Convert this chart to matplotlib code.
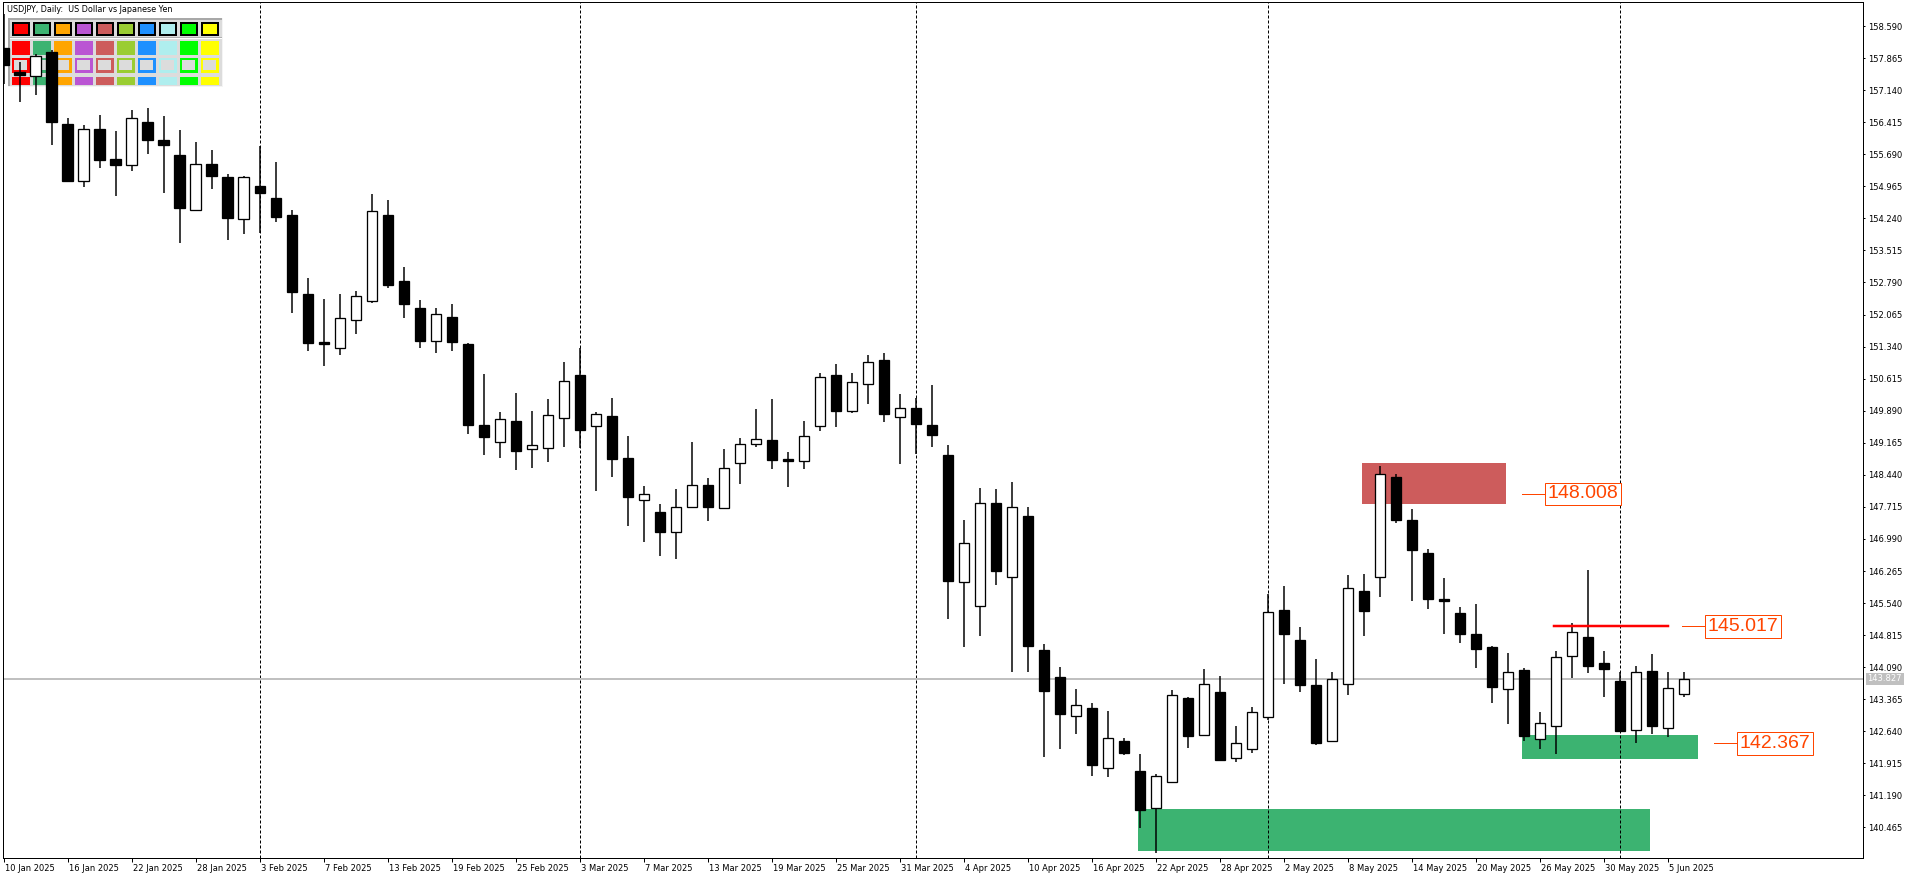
import matplotlib
matplotlib.use('Agg')
import matplotlib.pyplot as plt
from matplotlib.patches import Rectangle
from matplotlib.transforms import ScaledTranslation, blended_transform_factory

W, H = 1916, 880

# daily USDJPY bars, 10 Jan 2025 .. 6 Jun 2025
opens = [158.09, 157.56, 157.46, 158.00, 156.37, 155.09, 156.26, 155.58, 155.45, 156.41,
         156.01, 155.67, 154.44, 155.48, 155.17, 154.22, 154.97, 154.69, 154.31, 152.53,
         151.44, 151.30, 151.94, 152.38, 154.32, 152.82, 152.21, 151.47, 152.01, 151.40,
         149.57, 149.19, 149.66, 149.02, 149.04, 149.72, 150.70, 149.55, 149.77, 148.81,
         147.86, 147.59, 147.14, 147.72, 148.20, 147.70, 148.71, 149.13, 149.22, 148.80,
         148.76, 149.55, 150.69, 149.89, 150.50, 151.03, 149.75, 149.95, 149.57, 148.89,
         146.01, 145.47, 147.81, 146.14, 147.51, 144.48, 143.87, 142.98, 143.17, 141.80,
         142.43, 141.74, 140.91, 141.49, 143.39, 142.56, 143.52, 142.03, 142.23, 142.96,
         145.38, 144.71, 143.69, 142.41, 143.72, 145.81, 146.12, 148.39, 147.42, 146.67,
         145.63, 145.31, 144.84, 144.55, 143.59, 144.03, 142.46, 142.75, 144.34, 144.77,
         144.18, 143.78, 142.68, 144.00, 142.71, 143.48]
highs = [158.87, 157.78, 157.96, 158.05, 156.52, 156.35, 156.58, 156.22, 156.69, 156.73,
         156.55, 156.24, 155.97, 155.79, 155.24, 155.20, 155.88, 155.51, 154.44, 152.89,
         152.42, 152.53, 152.60, 154.79, 154.66, 153.14, 152.39, 152.21, 152.30, 151.43,
         150.72, 149.86, 150.28, 149.88, 150.15, 150.99, 151.30, 149.85, 150.18, 149.32,
         148.19, 147.78, 148.12, 149.18, 148.36, 149.02, 149.27, 149.93, 150.15, 148.95,
         149.65, 150.74, 150.94, 150.74, 151.14, 151.20, 150.27, 150.17, 150.47, 149.12,
         147.42, 148.15, 148.12, 148.28, 147.71, 144.62, 144.09, 143.59, 143.28, 143.10,
         142.48, 142.13, 141.67, 143.57, 143.42, 144.05, 143.89, 142.76, 143.19, 145.75,
         145.93, 145.00, 144.28, 143.98, 146.17, 146.20, 148.64, 148.46, 147.67, 146.76,
         146.11, 145.45, 145.52, 144.57, 144.41, 144.07, 143.08, 144.46, 145.08, 146.29,
         144.46, 143.99, 144.12, 144.38, 143.97, 143.97]
lows = [157.28, 156.88, 157.03, 155.90, 155.06, 154.96, 155.39, 154.75, 155.32, 155.69,
        154.82, 153.69, 154.42, 154.90, 153.75, 153.89, 153.92, 154.15, 152.09, 151.23,
        150.91, 151.15, 151.63, 152.33, 152.67, 151.99, 151.31, 151.20, 151.23, 149.36,
        148.89, 148.83, 148.55, 148.59, 148.74, 149.08, 149.04, 148.08, 148.38, 147.29,
        146.93, 146.61, 146.53, 147.70, 147.40, 147.68, 148.24, 149.08, 148.58, 148.17,
        148.57, 149.44, 149.53, 149.83, 150.05, 149.64, 148.69, 148.90, 149.08, 145.19,
        144.54, 144.80, 145.96, 143.99, 143.99, 142.07, 142.23, 142.59, 141.63, 141.61,
        142.11, 140.46, 139.88, 141.49, 142.27, 142.54, 141.97, 141.95, 142.16, 142.90,
        143.71, 143.53, 142.34, 142.39, 143.45, 144.80, 145.68, 147.36, 145.59, 145.41,
        144.85, 144.64, 144.07, 143.27, 142.80, 142.41, 142.23, 142.12, 143.85, 143.95,
        143.42, 142.62, 142.37, 142.58, 142.52, 143.41]
closes = [157.71, 157.48, 157.92, 156.43, 155.09, 156.26, 155.56, 155.45, 156.50, 156.01,
          155.90, 154.48, 155.48, 155.20, 154.25, 155.17, 154.82, 154.28, 152.58, 151.43,
          151.41, 151.98, 152.48, 154.40, 152.73, 152.31, 151.47, 152.08, 151.45, 149.57,
          149.30, 149.70, 148.99, 149.11, 149.79, 150.56, 149.45, 149.81, 148.80, 147.94,
          148.00, 147.15, 147.71, 148.20, 147.72, 148.59, 149.13, 149.24, 148.78, 148.76,
          149.31, 150.65, 149.89, 150.54, 151.00, 149.82, 149.95, 149.60, 149.33, 146.05,
          146.89, 147.81, 146.27, 147.71, 144.58, 143.56, 143.04, 143.24, 141.88, 142.48,
          142.16, 140.87, 141.62, 143.45, 142.54, 143.72, 141.99, 142.37, 143.07, 145.33,
          144.85, 143.69, 142.38, 143.82, 145.87, 145.35, 148.45, 147.42, 146.75, 145.64,
          145.59, 144.85, 144.51, 143.65, 143.97, 142.54, 142.82, 144.31, 144.88, 144.12,
          144.05, 142.65, 143.99, 142.77, 143.61, 143.827]

date_labels = ['10 Jan 2025', '16 Jan 2025', '22 Jan 2025', '28 Jan 2025', '3 Feb 2025',
               '7 Feb 2025', '13 Feb 2025', '19 Feb 2025', '25 Feb 2025', '3 Mar 2025',
               '7 Mar 2025', '13 Mar 2025', '19 Mar 2025', '25 Mar 2025', '31 Mar 2025',
               '4 Apr 2025', '10 Apr 2025', '16 Apr 2025', '22 Apr 2025', '28 Apr 2025',
               '2 May 2025', '8 May 2025', '14 May 2025', '20 May 2025', '26 May 2025',
               '30 May 2025', '5 Jun 2025']
label_every = 4
month_starts = [16, 36, 57, 79, 101]  # first bar of Feb, Mar, Apr, May, Jun

price_ticks = [158.590, 157.865, 157.140, 156.415, 155.690, 154.965, 154.240, 153.515,
               152.790, 152.065, 151.340, 150.615, 149.890, 149.165, 148.440, 147.715,
               146.990, 146.265, 145.540, 144.815, 144.090, 143.365, 142.640, 141.915,
               141.190, 140.465]
last_price = 143.827

# zones: (first bar, last bar, low, high)
supply_zone = (84.9, 93.9, 147.78, 148.71)
demand_zones = [(70.9, 102.9, 139.93, 140.88), (94.9, 105.9, 142.02, 142.56)]
resistance_line = (96.9, 104.0, 145.017)
level_values = [148.008, 145.017, 142.367]
level_starts = [94.9, 104.9, 106.9]

palette_colors = ['#FF0000', '#3CB371', '#FFA500', '#BA55D3', '#CD5C5C',
                  '#9ACD32', '#1E90FF', '#AFEEEE', '#00FF00', '#FFFF00']

PX = 0.72  # one pixel in points

fig = plt.figure(figsize=(W / 100, H / 100), dpi=100)
ax = fig.add_axes([2.7 / W, 22 / H, 1860.3 / W, 856 / H])
ax.set_autoscale_on(False)

# zones and levels behind the candles
x0, x1, lo, hi = supply_zone
ax.add_patch(Rectangle((x0, lo), x1 - x0, hi - lo, color='#CD5C5C', lw=0, zorder=1))
for x0, x1, lo, hi in demand_zones:
    ax.add_patch(Rectangle((x0, lo), x1 - x0, hi - lo, color='#3CB371', lw=0, zorder=1))

for m in month_starts:
    ax.axvline(m, color='black', lw=PX, ls=(0, (3, 2)), zorder=1.5)

ax.axhline(last_price, color='#C0C0C0', lw=2 * PX, zorder=2)

# candles
idx = list(range(len(opens)))
ax.vlines(idx, lows, highs, color='black', lw=1.5 * PX, zorder=3)
bottoms = [min(o, c) for o, c in zip(opens, closes)]
heights = [max(abs(c - o), 0.02) for o, c in zip(opens, closes)]
fills = ['white' if c >= o else 'black' for o, c in zip(opens, closes)]
ax.bar(idx, heights, bottom=bottoms, width=0.63, color=fills, edgecolor='black',
       linewidth=1.3 * PX, zorder=4)

x0, x1, y = resistance_line
ax.plot([x0, x1], [y, y], color='#FF0000', lw=2.5 * PX, zorder=5)

shift = ScaledTranslation(3 / 100, 0, fig.dpi_scale_trans)
for val, start in zip(level_values, level_starts):
    ax.plot([start, start + 1.4], [val, val], color='#FF4500', lw=PX, zorder=5)
    ax.text(start + 1.4, val, f'{val:.3f}', transform=ax.transData + shift,
            family='Liberation Sans', fontsize=14, color='#FF4500', ha='left', va='center',
            zorder=6, bbox=dict(boxstyle='square,pad=0.15', fc='white', ec='#FF4500', lw=PX))

# axes
ax.set_xlim(-0.05, 116.2)
ax.set_ylim(139.775, 159.133)
for s in ax.spines.values():
    s.set_linewidth(PX)

ax.set_xticks(range(0, len(date_labels) * label_every, label_every))
ax.set_xticklabels(date_labels, fontsize=6, ha='left')
ax.tick_params(axis='x', length=4 * PX, width=PX, pad=2 * PX)
for lab in ax.get_xticklabels():
    lab.set_transform(lab.get_transform() + ScaledTranslation(1 / 100, 0, fig.dpi_scale_trans))

ax.yaxis.tick_right()
ax.set_yticks(price_ticks)
ax.set_yticklabels([f'{p:.3f}' for p in price_ticks], fontsize=6)
ax.tick_params(axis='y', length=2.5 * PX, width=PX, pad=3 * PX)

bt = blended_transform_factory(ax.transAxes, ax.transData)
ax.text(1.0, last_price, f'{last_price:.3f}', transform=bt + ScaledTranslation(4.5 / 100, 0, fig.dpi_scale_trans),
        fontsize=6, color='white', ha='left', va='center', clip_on=False, zorder=7,
        bbox=dict(boxstyle='square,pad=0.2', fc='#C0C0C0', ec='none'))


# colour palette panel in the top-left corner (figure pixel coordinates)
def px_rect(x, y, w, h, fc, z=2.2):
    ax.add_patch(Rectangle((x / W, 1 - (y + h) / H), w / W, h / H, transform=fig.transFigure,
                           fc=fc, ec='none', lw=0, clip_on=False, zorder=z))


px_rect(8, 18, 215, 69.5, '#DCDCDC')
px_rect(8, 18, 2, 69.5, '#A8A8A8')
px_rect(8, 18, 215, 2, '#A8A8A8')
px_rect(222, 18, 1, 69.5, '#F4F4F4')
px_rect(8, 86.5, 215, 1, '#F4F4F4')
px_rect(10, 37.3, 212, 1, '#B0B0B0')
px_rect(10, 38.3, 212, 1, '#FFFFFF')
for c, col in enumerate(palette_colors):
    cx = 11.7 + 21 * c
    px_rect(cx, 21.7, 18.3, 14.3, 'black')
    px_rect(cx + 2.3, 23.7, 13.7, 10, col)
    px_rect(cx, 40.7, 18, 14.3, col)
    px_rect(cx, 57.7, 18, 15, col)
    px_rect(cx + 2.3, 60, 13.4, 10.4, '#DCDCDC')
    px_rect(cx, 76.7, 18, 8.3, col)

fig.text(7 / W, 1 - 10 / H, 'USDJPY, Daily:  US Dollar vs Japanese Yen', fontsize=5.8,
         ha='left', va='center')

fig.savefig('out.png', dpi=100, facecolor='white')
